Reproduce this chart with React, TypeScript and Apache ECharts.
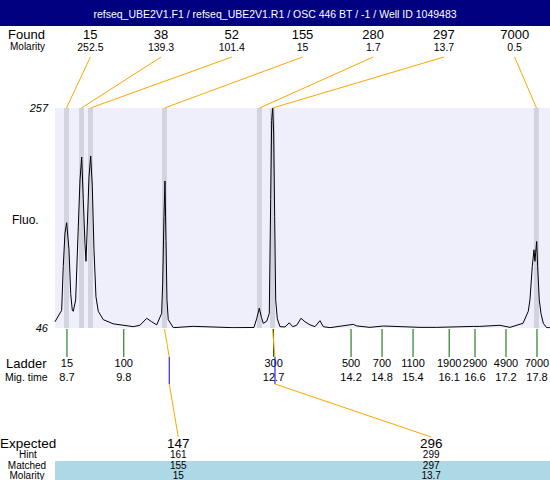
import React, { useEffect, useRef } from "react";
import * as echarts from "echarts";

const TITLE = "refseq_UBE2V1.F1 / refseq_UBE2V1.R1 / OSC 446 BT / -1 / Well ID 1049483";

const FLUO_MIN = 46;
const FLUO_MAX = 257;
const TIME_MIN = 8.468;
const TIME_MAX = 18.052;

// Found peaks
const foundSizes = ["15", "38", "52", "155", "280", "297", "7000"];
const foundMolarity = ["252.5", "139.3", "101.4", "15", "1.7", "13.7", "0.5"];
const foundTimes = [8.69, 8.981, 9.155, 10.588, 12.427, 12.679, 17.79];

// Ladder
const ladderSizes = ["15", "100", "300", "500", "700", "1100", "1900", "2900", "4900", "7000"];
const ladderTimeLabels = ["8.7", "9.8", "12.7", "14.2", "14.8", "15.4", "16.1", "16.6", "17.2", "17.8"];
const ladderTimes = [8.7, 9.8, 12.7, 14.2, 14.8, 15.4, 16.1, 16.6, 17.2, 17.8];

// Expected / matched
const expectedSizes = ["147", "296"];
const hintSizes = ["161", "299"];
const matchedSizes = ["155", "297"];
const matchedMolarity = ["15", "13.7"];
const matchedTimes = [10.588, 12.679];
const hintTimes = [10.68, 12.727];

// Electropherogram trace (migration time, fluorescence)
const traceTime = [
  8.468, 8.597, 8.628, 8.661, 8.694, 8.739, 8.772, 8.803, 8.822, 8.868, 8.919, 8.952, 8.985,
  9.016, 9.048, 9.068, 9.093, 9.126, 9.159, 9.19, 9.223, 9.261, 9.306, 9.403, 9.596, 9.984,
  10.113, 10.243, 10.34, 10.437, 10.533, 10.553, 10.578, 10.597, 10.617, 10.636, 10.661, 10.758,
  11.145, 11.914, 12.32, 12.373, 12.423, 12.466, 12.501, 12.567, 12.617, 12.644, 12.663, 12.683,
  12.702, 12.721, 12.741, 12.772, 12.824, 12.921, 13.004, 13.07, 13.147, 13.231, 13.308, 13.405,
  13.502, 13.598, 13.662, 13.792, 14.243, 14.309, 14.566, 14.824, 15.05, 15.534, 15.858, 16.566,
  16.682, 17.083, 17.277, 17.529, 17.631, 17.664, 17.709, 17.742, 17.761, 17.774, 17.794, 17.813,
  17.844, 17.877, 17.922, 17.988, 18.052,
];
const traceFluo = [
  52, 63, 105, 137, 147, 121, 79, 63, 62, 73, 143, 188, 210,
  169, 127, 110, 143, 191, 211, 182, 121, 76, 62, 54, 50, 47.3,
  48.6, 55.3, 52, 49, 60, 89, 153, 187, 130, 73, 54, 46.3,
  47.6, 46.3, 46.5, 55, 65, 56, 50.5, 52.5, 60, 169, 245, 257,
  233, 153, 73, 55, 47.3, 47, 51, 47.3, 48.6, 55.3, 52, 49,
  47.3, 53, 47.3, 46.3, 49.5, 48, 46.6, 47.9, 47.5, 46.6, 46.6, 47.5,
  47.5, 48.6, 46.6, 50.5, 62, 73, 105, 121, 110, 118, 129, 105,
  73, 60, 50.5, 46.3, 46.3,
];

const FONT = '"Liberation Sans", Arial, Helvetica, sans-serif';
const GRID_LEFT = 55;
const ORANGE = "#FFA500";

function txt(text: string, x: number, y: number, size: number, align = "center", extra: any = {}) {
  return {
    type: "text",
    x,
    y,
    style: {
      text,
      fill: extra.fill || "#000",
      font: `${extra.style || ""} ${size}px ${FONT}`,
      textAlign: align,
      align,
      textVerticalAlign: "middle",
      verticalAlign: "middle",
    },
    z: extra.z ?? 10,
  };
}

function seg(x1: number, y1: number, x2: number, y2: number, stroke: string) {
  return {
    type: "line",
    shape: { x1, y1, x2, y2 },
    style: { stroke, lineWidth: 1 },
  };
}

export default function App() {
  const ref = useRef<HTMLDivElement>(null);

  useEffect(() => {
    if (!ref.current) return;
    const chart = echarts.init(ref.current, undefined, { renderer: "svg" });

    const option: any = {
      animation: false,
      grid: {
        left: GRID_LEFT,
        right: 0,
        top: 108,
        height: 220,
        show: true,
        backgroundColor: "#efeffb",
        borderWidth: 0,
      },
      xAxis: {
        type: "value",
        min: TIME_MIN,
        max: TIME_MAX,
        show: false,
      },
      yAxis: {
        type: "value",
        min: FLUO_MIN,
        max: FLUO_MAX,
        interval: FLUO_MAX - FLUO_MIN,
        axisLine: { show: false },
        axisTick: { show: false },
        splitLine: { show: false },
        axisLabel: {
          color: "#000",
          fontSize: 11,
          fontStyle: "italic",
          fontFamily: FONT,
          margin: 7,
        },
      },
      graphic: {
        elements: [
          { type: "rect", shape: { x: 0, y: 0, width: 550, height: 26 }, style: { fill: "#000080" }, z: 0 },
          txt(TITLE, 275, 13.5, 10.5, "center", { fill: "#fff" }),
          txt("Found", 8, 34, 13, "left"),
          txt("Molarity", 10, 46.5, 10, "left"),
          txt("Fluo.", 12, 220, 12, "left"),
          txt("Ladder", 6, 363, 13, "left"),
          txt("Mig. time", 5, 377, 10.5, "left"),
          { type: "rect", shape: { x: 55, y: 461, width: 495, height: 19 }, style: { fill: "#ADD8E6" }, z: 0 },
          txt("Expected", 0, 443, 13.5, "left"),
          txt("Hint", 28, 454.5, 10, "center"),
          txt("Matched", 27, 465, 10, "center"),
          txt("Molarity", 27, 475, 10, "center"),
        ],
      },
      series: [
        {
          type: "line",
          data: traceTime.map((t, i) => [t, traceFluo[i]]),
          symbol: "none",
          lineStyle: { color: "#000", width: 1 },
          z: 3,
          silent: true,
          markArea: {
            silent: true,
            itemStyle: { color: "#d3d3df" },
            data: foundTimes.map((t) => [{ xAxis: t - 0.048 }, { xAxis: t + 0.048 }]),
          },
        },
        {
          type: "custom",
          silent: true,
          clip: false,
          z: 5,
          encode: { x: 0, y: 1 },
          data: foundTimes.map((t, i) => [t, FLUO_MAX, i]),
          renderItem: (params: any, api: any) => {
            const i = api.value(2);
            const [px, topY] = api.coord([api.value(0), FLUO_MAX]);
            const w = api.getWidth() - GRID_LEFT;
            const colX = GRID_LEFT + ((i + 0.5) * w) / 7;
            return {
              type: "group",
              children: [
                seg(colX, 57, px, topY, ORANGE),
                txt(foundSizes[i], colX, 34, 13),
                txt(foundMolarity[i], colX, 46.5, 10.5),
              ],
            };
          },
        },
        {
          type: "custom",
          silent: true,
          clip: false,
          z: 5,
          encode: { x: 0, y: 1 },
          data: ladderTimes.map((t, i) => [t, FLUO_MIN, i]),
          renderItem: (params: any, api: any) => {
            const i = api.value(2);
            const [px, bottomY] = api.coord([api.value(0), FLUO_MIN]);
            return {
              type: "group",
              children: [
                seg(px, bottomY + 1, px, 357, "#006400"),
                txt(ladderSizes[i], px, 363, 11),
                txt(ladderTimeLabels[i], px, 377, 11),
              ],
            };
          },
        },
        {
          type: "custom",
          silent: true,
          clip: false,
          z: 6,
          encode: { x: 0, y: 1 },
          data: matchedTimes.map((t, i) => [t, FLUO_MIN, i]),
          renderItem: (params: any, api: any) => {
            const i = api.value(2);
            const [mx, bottomY] = api.coord([api.value(0), FLUO_MIN]);
            const [hx] = api.coord([hintTimes[i], FLUO_MIN]);
            const w = api.getWidth() - GRID_LEFT;
            const colX = GRID_LEFT + w * (0.249 + 0.511 * i);
            return {
              type: "group",
              children: [
                seg(mx, bottomY + 1, hx, 357, ORANGE),
                seg(hx, 357, hx, 384, "#0000FF"),
                seg(hx, 384, colX, 437, ORANGE),
                txt(expectedSizes[i], colX, 443, 13.5),
                txt(hintSizes[i], colX, 454.5, 10),
                txt(matchedSizes[i], colX, 465, 10),
                txt(matchedMolarity[i], colX, 475, 10),
              ],
            };
          },
        },
      ],
    };

    chart.setOption(option);
    return () => chart.dispose();
  }, []);

  return (
    <div
      ref={ref}
      style={{ position: "fixed", left: 0, top: 0, width: 550, height: 480, background: "#fff" }}
    />
  );
}
